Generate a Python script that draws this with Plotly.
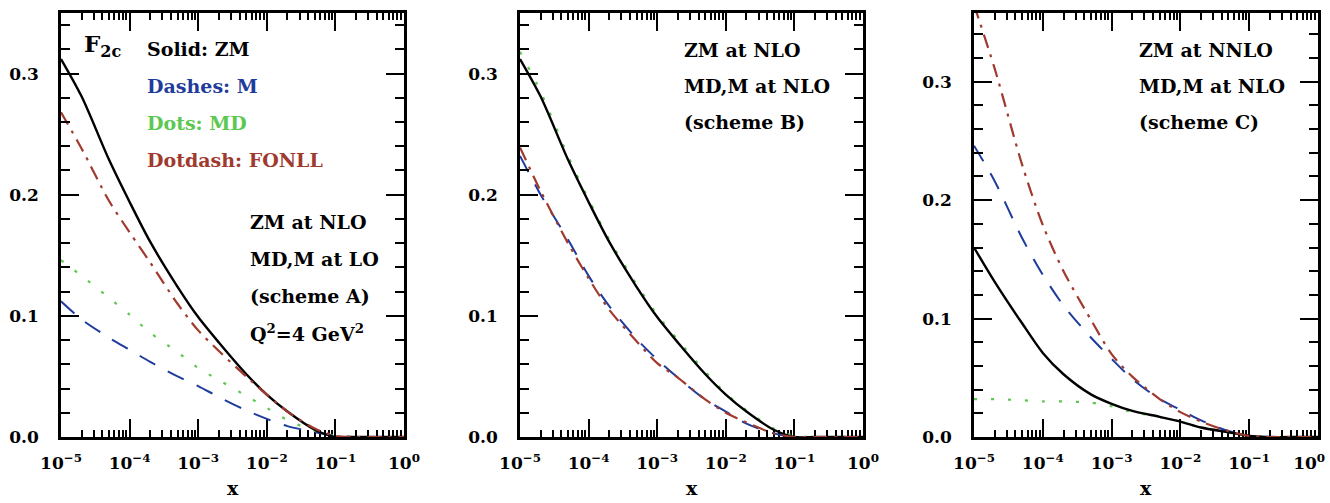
import plotly.graph_objects as go

W, H = 1330, 503

# x grid (shared by all curves)
x_vals = [1e-5, 2e-5, 5e-5, 1e-4, 2e-4, 5e-4, 1e-3, 2e-3, 5e-3, 1e-2, 2e-2, 5e-2, 1e-1, 2e-1, 5e-1, 1.0]

# Panel A: ZM at NLO, MD,M at LO
zm_nlo_a = [0.312, 0.281, 0.229, 0.194, 0.161, 0.124, 0.099, 0.078, 0.052, 0.035, 0.021, 0.006, 0.0, 0.0, 0.0, 0.0]
m_a      = [0.112, 0.097, 0.082, 0.072, 0.062, 0.050, 0.042, 0.033, 0.022, 0.015, 0.009, 0.004, 0.001, 0.0, 0.0, 0.0]
md_a     = [0.146, 0.133, 0.115, 0.101, 0.086, 0.070, 0.057, 0.047, 0.034, 0.024, 0.014, 0.005, 0.001, 0.0, 0.0, 0.0]
fonll_a  = [0.268, 0.238, 0.195, 0.169, 0.144, 0.110, 0.088, 0.071, 0.050, 0.035, 0.021, 0.007, 0.001, 0.0, 0.0, 0.0]

# Panel B: ZM at NLO, MD,M at NLO
zm_nlo_b = [0.312, 0.281, 0.229, 0.194, 0.161, 0.124, 0.099, 0.078, 0.052, 0.035, 0.021, 0.006, 0.0, 0.0, 0.0, 0.0]
m_b      = [0.232, 0.200, 0.163, 0.133, 0.108, 0.081, 0.064, 0.049, 0.031, 0.021, 0.011, 0.003, 0.0, 0.0, 0.0, 0.0]
md_b     = [0.318, 0.285, 0.232, 0.196, 0.163, 0.126, 0.101, 0.080, 0.054, 0.036, 0.022, 0.007, 0.001, 0.0, 0.0, 0.0]
fonll_b  = [0.239, 0.203, 0.160, 0.131, 0.105, 0.079, 0.061, 0.049, 0.031, 0.020, 0.012, 0.003, 0.0, 0.0, 0.0, 0.0]

# Panel C: ZM at NNLO, MD,M at NLO
zm_nnlo_c = [0.160, 0.131, 0.096, 0.071, 0.053, 0.036, 0.028, 0.022, 0.017, 0.013, 0.008, 0.004, 0.001, 0.0, 0.0, 0.0]
m_c       = [0.246, 0.216, 0.168, 0.137, 0.111, 0.084, 0.066, 0.049, 0.032, 0.023, 0.014, 0.005, 0.001, 0.0, 0.0, 0.0]
md_c      = [0.032, 0.032, 0.031, 0.030, 0.030, 0.029, 0.026, 0.021, 0.017, 0.013, 0.008, 0.004, 0.001, 0.0, 0.0, 0.0]
fonll_c   = [0.365, 0.311, 0.230, 0.179, 0.140, 0.099, 0.070, 0.051, 0.032, 0.021, 0.013, 0.005, 0.001, 0.0, 0.0, 0.0]

x_tick_vals = [1e-5, 1e-4, 1e-3, 1e-2, 1e-1, 1.0]
x_tick_text = ["10<sup>\u22125</sup>", "10<sup>\u22124</sup>", "10<sup>\u22123</sup>",
               "10<sup>\u22122</sup>", "10<sup>\u22121</sup>", "10<sup>0</sup>"]
# last panel: final label nudged inside the page edge
x_tick_text_c = x_tick_text[:-1] + ["10<sup>0</sup>\u00a0\u00a0\u00a0"]
y_tick_vals = [0.0, 0.1, 0.2, 0.3]
y_tick_text = ["0.0", "0.1", "0.2", "0.3"]
y_max = [0.35, 0.35, 0.358]

panel_px = [(61, 404), (520, 863), (974, 1318)]
top_px, bot_px = 13, 437

C_ZM, C_M, C_MD, C_FONLL = "#000000", "#1f3c9c", "#5cc850", "#a03a2e"
FONT = "DejaVu Serif, Liberation Serif, serif"

panels = [
    (zm_nlo_a, m_a, md_a, fonll_a),
    (zm_nlo_b, m_b, md_b, fonll_b),
    (zm_nnlo_c, m_c, md_c, fonll_c),
]
tick_texts = [x_tick_text, x_tick_text, x_tick_text_c]

fig = go.Figure()
minor_vals = [k * 10 ** d for d in range(-5, 0) for k in range(2, 10)]

for i, (zm, m, md, fo) in enumerate(panels):
    sfx = "" if i == 0 else str(i + 1)
    xa, ya = "x" + sfx, "y" + sfx
    fig.add_trace(go.Scatter(x=x_vals, y=md, mode="lines", xaxis=xa, yaxis=ya,
                             line=dict(color=C_MD, width=2.2, dash="3px,14px", shape="spline", smoothing=0.8),
                             showlegend=False))
    fig.add_trace(go.Scatter(x=x_vals, y=m, mode="lines", xaxis=xa, yaxis=ya,
                             line=dict(color=C_M, width=2, dash="18px,14px", shape="spline", smoothing=0.8),
                             showlegend=False))
    fig.add_trace(go.Scatter(x=x_vals, y=zm, mode="lines", xaxis=xa, yaxis=ya,
                             line=dict(color=C_ZM, width=2.4, shape="spline", smoothing=0.8),
                             showlegend=False))
    fig.add_trace(go.Scatter(x=x_vals, y=fo, mode="lines", xaxis=xa, yaxis=ya,
                             line=dict(color=C_FONLL, width=2.2, dash="14px,7px,3px,7px", shape="spline", smoothing=0.8),
                             showlegend=False))

    x0, x1 = panel_px[i]
    fig.layout["xaxis" + sfx] = dict(
        type="log", range=[-5, 0], domain=[x0 / W, x1 / W], anchor=ya, automargin=False,
        tickmode="array", tickvals=x_tick_vals, ticktext=tick_texts[i],
        ticks="inside", ticklen=18, tickwidth=2, tickcolor="black",
        minor=dict(tickmode="array", tickvals=minor_vals, ticks="inside", ticklen=7,
                   tickwidth=1.5, tickcolor="black", showgrid=False),
        showline=True, linecolor="black", linewidth=2.5, mirror="allticks",
        showgrid=False, zeroline=False, ticklabelstandoff=9, ticklabeloverflow="allow",
        layer="below traces",
        tickfont=dict(family=FONT, size=17, color="black", weight="bold"),
    )
    fig.layout["yaxis" + sfx] = dict(
        range=[0, y_max[i]], domain=[1 - bot_px / H, 1 - top_px / H], anchor=xa, automargin=False,
        tickmode="array", tickvals=y_tick_vals, ticktext=y_tick_text,
        ticks="inside", ticklen=18, tickwidth=2, tickcolor="black",
        minor=dict(dtick=0.02, tick0=0, ticks="inside", ticklen=9, tickwidth=1.5,
                   tickcolor="black", showgrid=False),
        showline=True, linecolor="black", linewidth=2.5, mirror="allticks",
        showgrid=False, zeroline=False, ticklabelstandoff=16,
        tickfont=dict(family=FONT, size=17, color="black", weight="bold"),
    )

def txt(s, px, py, color="black", size=19, xanchor="left"):
    fig.add_annotation(text=s, x=px / W, y=1 - py / H, xref="paper", yref="paper",
                       xanchor=xanchor, yanchor="middle", showarrow=False,
                       font=dict(family=FONT, size=size, color=color, weight="bold"))

# legend texts panel 1
txt("F<sub>2c</sub>", 82, 45, size=23)
txt("Solid: ZM", 145, 49)
txt("Dashes: M", 145, 86, color=C_M)
txt("Dots: MD", 145, 123, color=C_MD)
txt("Dotdash: FONLL", 145, 160, color=C_FONLL)
# panel 1 scheme text
for j, s in enumerate(["ZM at NLO", "MD,M at LO", "(scheme A)", "Q<sup>2</sup>=4 GeV<sup>2</sup>"]):
    txt(s, 248, 222 + 37 * j)
for j, s in enumerate(["ZM at NLO", "MD,M at NLO", "(scheme B)"]):
    txt(s, 682, 50 + 36 * j)
for j, s in enumerate(["ZM at NNLO", "MD,M at NLO", "(scheme C)"]):
    txt(s, 1137, 50 + 36 * j)

for (x0, x1) in panel_px:
    txt("x", (x0 + x1) / 2, 488, size=19, xanchor="center")

fig.update_layout(width=W, height=H, margin=dict(l=0, r=0, t=0, b=0),
                  paper_bgcolor="white", plot_bgcolor="white", showlegend=False)

fig.write_html("out.html")
